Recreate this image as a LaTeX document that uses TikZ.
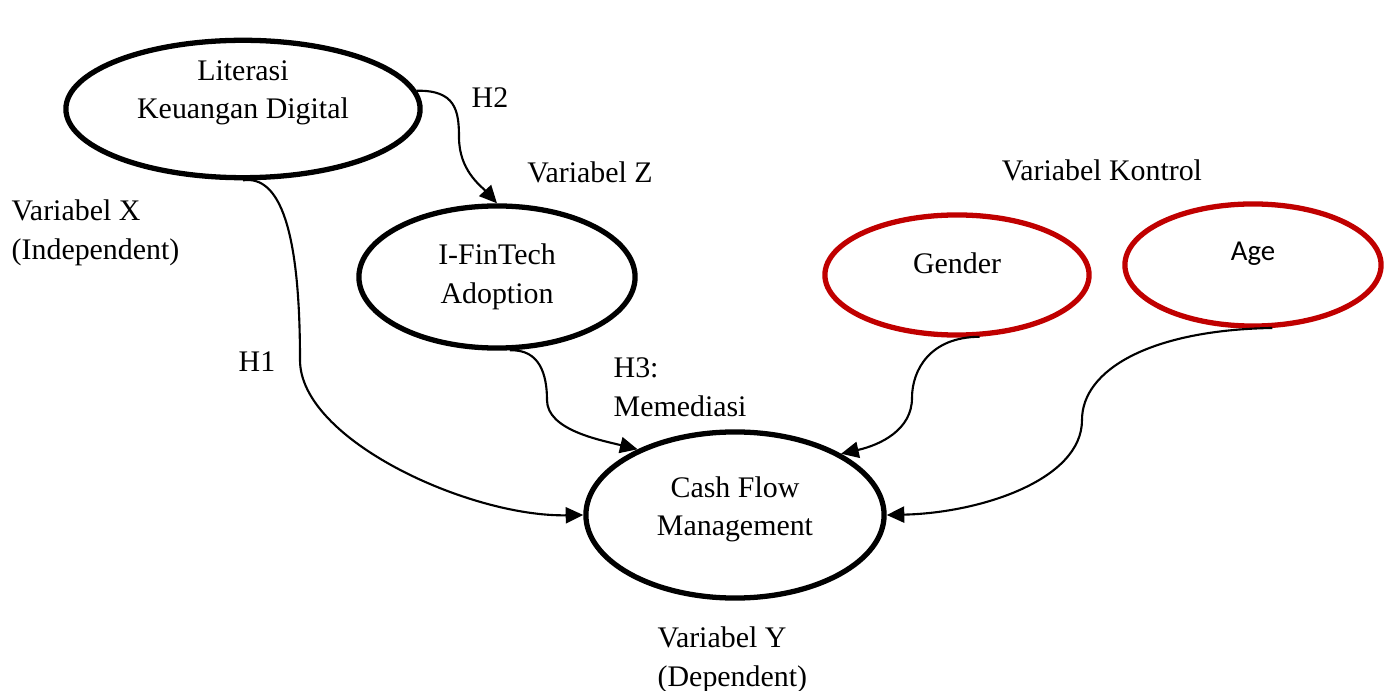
\documentclass[tikz,border=0pt]{standalone}
\usepackage{fontspec}
\setmainfont{Liberation Serif}
\newfontfamily\agefont{Carlito}
\usetikzlibrary{shapes.geometric,arrows.meta}
\definecolor{kontrolred}{RGB}{192,0,0}
\tikzset{
  var/.style={ellipse, draw, line width=1.5pt, inner sep=0pt, align=center},
  ctrl/.style={var, draw=kontrolred},
  hyp/.style={line width=0.6pt, -{Triangle[length=5pt,width=4.6pt]}},
  lbl/.style={inner sep=0pt, align=left},
}
\newcommand{\lift}[2]{\raisebox{#1}[\height][\depth]{#2}}
\begin{document}
\begin{tikzpicture}[x=0.01cm, y=-0.01cm, font=\fontsize{8.5}{11}\selectfont]
        \useasboundingbox (0,0) rectangle (1384,691);
        \node[var, minimum width=3.54cm, minimum height=1.24cm] (lit) at (243,109) {Literasi\\Keuangan Digital\\\mbox{}};
        \node[var, minimum width=2.76cm, minimum height=1.42cm] (fin) at (497,277) {I-FinTech\\Adoption};
        \node[var, minimum width=2.98cm, minimum height=1.66cm] (cash) at (735,515) {\lift{1.6pt}{Cash Flow}\\\lift{1.6pt}{Management}};
        \node[ctrl, minimum width=2.64cm, minimum height=1.20cm] (gen) at (957,275) {\lift{3.4pt}{Gender}};
        \node[ctrl, minimum width=2.56cm, minimum height=1.22cm] (age) at (1253,265) {\agefont\fontsize{8.2}{10}\selectfont\lift{3.2pt}{Age}};
        \draw[hyp] (lit.6) .. controls (455,90) and (459,110) .. (459,137) .. controls (459,170) and (480,185) .. (fin.north);
        \draw[hyp] (lit.south) .. controls (280,175) and (300,230) .. (300,360) .. controls (300,440) and (470,517) .. (cash.west);
        \draw[hyp] (fin.280) .. controls (540,349) and (547,375) .. (547,400) .. controls (547,430) and (600,440) .. (cash.146);
        \draw[hyp] (gen.290) .. controls (930,337) and (912,370) .. (912,398) .. controls (912,430) and (880,445) .. (cash.30);
        \draw[hyp] (age.287) .. controls (1150,330) and (1082,370) .. (1082,420) .. controls (1082,480) and (980,513) .. (cash.east);
        \node (h2) at (490,98) {H2};
        \node (varz) at (590,172) {Variabel Z};
        \node (varkon) at (1102,170) {Variabel Kontrol};
        \node[lbl, anchor=west] (varx) at (11,233) {Variabel X\\(Independent)};
        \node (h1) at (257,362) {H1};
        \node[lbl, anchor=west] (h3) at (613,387) {H3:\\Memediasi};
        \node[lbl, anchor=west] (vary) at (657,660) {Variabel Y\\(Dependent)};
\end{tikzpicture}
\end{document}
